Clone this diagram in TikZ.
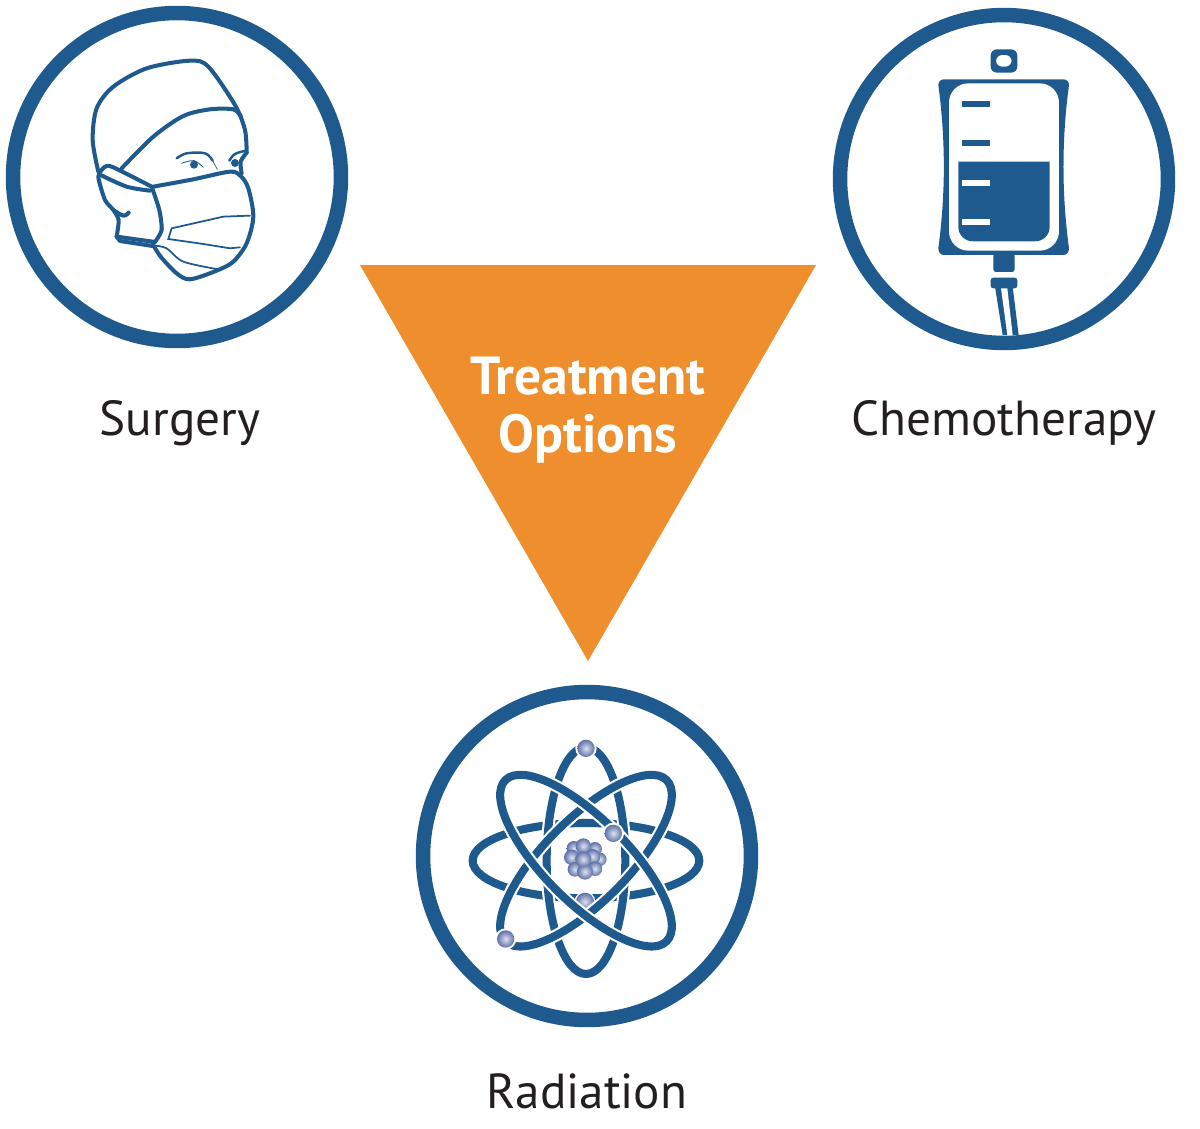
\documentclass[tikz,border=0pt]{standalone}
\usepackage{fontspec}
\setmainfont{PT Sans}
\usepackage{tikz}
\usetikzlibrary{shapes,calc,positioning}

\definecolor{ringblue}{HTML}{1F5A8F}
\definecolor{triangleorange}{HTML}{EF8E2D}
\definecolor{labelblack}{HTML}{231F20}
\definecolor{balllight}{HTML}{DDE1F0}
\definecolor{balldark}{HTML}{5F72A8}

\tikzset{
	ring/.style={draw=ringblue,line width=0.29cm,circle,minimum size=6.56cm,inner sep=0pt},
	treatment/.style={text=labelblack,font=\fontsize{28}{33}\selectfont,text height=20pt,text depth=6pt,inner sep=0pt,outer sep=0pt},
	maskline/.style={draw=ringblue,line width=2.3pt,line cap=round,line join=round},
	thinline/.style={draw=ringblue,line width=1pt,line cap=round},
	orbit/.style={draw=white,line width=1.2pt,double=ringblue,double distance=4.6pt},
	ball/.style={inner color=balllight,outer color=balldark}
}

\begin{document}
\begin{tikzpicture}[x=0.02cm,y=-0.02cm]
	\useasboundingbox (0,0) rectangle (1200,1129);

	\fill[triangleorange] (360,265) -- (816,265) -- (588,661) -- cycle;
	\node (options) [align=center,text=white,font=\fontsize{30.5}{33.4}\selectfont\bfseries] at (588,410) {Treatment\\Options};

	% mask
	\begin{scope}[shift={(70,40)},scale=0.3333]
		\draw[maskline] plot[smooth,tension=0.5] coordinates {(85,395) (68,300) (80,205) (130,140) (230,85) (360,62) (415,80) (495,195) (525,270) (530,338)};
		\draw[maskline] plot[smooth,tension=0.5] coordinates {(530,338) (512,365) (515,400)};
		\draw[maskline] plot[smooth,tension=0.5] coordinates {(155,385) (250,290) (340,228) (420,208) (490,208) (512,228)};
		\draw[maskline] plot[smooth,tension=0.5] coordinates {(250,440) (370,418) (480,395) (512,408) (535,445) (550,530) (530,610) (490,665) (440,692) (360,718) (320,700) (272,650) (248,612)};
		\draw[maskline] plot[smooth,tension=0.4] coordinates {(245,440) (268,510) (275,570) (255,606)};
		\draw[maskline] (255,606) -- (140,590);
		\draw[maskline] plot[smooth,tension=0.4] coordinates {(140,590) (146,540) (130,510) (105,480) (85,410) (105,380) (130,382) (245,440)};
		\draw[maskline] plot[smooth,tension=0.5] coordinates {(92,405) (170,440) (240,452)};
		\draw[maskline] plot[smooth,tension=0.6] coordinates {(130,510) (160,527) (176,518)};
		\draw[maskline] (140,590) -- (150,603) -- (248,618);
		\draw[thinline] (540,527) -- (460,530) -- (305,565) -- (295,597) -- (400,612) -- (480,625) -- (510,622);
		\draw[thinline] plot[smooth,tension=0.5] coordinates {(255,617) (290,625) (340,665) (445,688)};
		\fill[ringblue] (372,374) circle (12);
		\fill[ringblue] (495,369) circle (12);
		\draw[thinline,line width=1.4pt] plot[smooth,tension=0.6] coordinates {(320,355) (350,340) (405,340) (428,362)};
		\draw[thinline,line width=0.4pt] (428,362) -- (442,388);
		\draw[thinline,line width=0.5pt] plot[smooth,tension=0.6] coordinates {(335,370) (372,362) (400,382)};
		\draw[thinline,line width=1.4pt] plot[smooth,tension=0.6] coordinates {(478,362) (495,342) (528,332)};
	\end{scope}

	% bag
	\begin{scope}[shift={(900,30)},scale=0.3333]
		\fill[ringblue,even odd rule,rounded corners=3.5pt] (272,58) rectangle (352,128) (288,75) rectangle (335,110);
		\fill[ringblue] (132,148) -- (490,148) .. controls (500,148) and (507,155) .. (507,165) .. controls (485,330) and (485,490) .. (507,655) .. controls (507,667) and (500,675) .. (490,675) -- (132,675) .. controls (122,675) and (115,667) .. (115,655) .. controls (137,490) and (137,330) .. (115,165) .. controls (115,155) and (122,148) .. (132,148) -- cycle;
		\fill[white,rounded corners=11pt] (147,160) rectangle (477,662);
		\fill[ringblue] (175,395) -- (449,395) -- (449,590) .. controls (449,615) and (430,634) .. (405,634) -- (219,634) .. controls (194,634) and (175,615) .. (175,590) -- cycle;
		\fill[ringblue] (187,212) rectangle (271,230);
		\fill[ringblue] (187,330) rectangle (271,348);
		\fill[white] (187,449) rectangle (271,467);
		\fill[white] (187,568) rectangle (271,586);
		\fill[ringblue,rounded corners=1.5pt] (280,670) rectangle (344,726);
		\fill[ringblue,rounded corners=1.5pt] (272,743) rectangle (352,775);
		\fill[ringblue] (285,770) -- (338,770) -- (356,915) -- (308,915) -- cycle;
		\fill[white] (303,775) -- (322,775) -- (338,915) -- (322,915) -- cycle;
	\end{scope}

	% atom
	\begin{scope}[shift={(450,720)},scale=0.3333]
		\draw[orbit] (408,422) ellipse [x radius=340,y radius=113];
		\draw[orbit,rotate around={90:(408,422)}] (408,422) ellipse [x radius=340,y radius=118];
		\foreach \x/\y/\r in {372/385/22,435/387/21,400/378/23,365/412/23,450/418/20,428/410/23,375/448/22,435/446/22,405/455/24,400/418/24}
			\shade[ball] (\x,\y) circle (\r);
		\fill[white] (405,545) circle (31);
		\shade[ball] (405,545) circle (27);
		\draw[orbit,rotate around={45:(408,422)}] (408,422) ellipse [x radius=342,y radius=125];
		\draw[orbit,rotate around={-45:(408,422)}] (408,422) ellipse [x radius=342,y radius=125];
		\foreach \x/\y in {408/85,490/340,167/657}
		{
			\fill[white] (\x,\y) circle (32);
			\shade[ball] (\x,\y) circle (26);
		}
	\end{scope}

	\node (surgery) [ring] at (177,177) {};
	\node (chemo) [ring] at (1004,179) {};
	\node (radiation) [ring] at (587,856) {};

	\node (surgerytext) [treatment,below=1.04cm of surgery,xshift=0.06cm] {Surgery};
	\node (chemotext) [treatment,below=1.0cm of chemo] {Chemotherapy};
	\node (radiationtext) [treatment,below=0.92cm of radiation] {Radiation};
\end{tikzpicture}
\end{document}
